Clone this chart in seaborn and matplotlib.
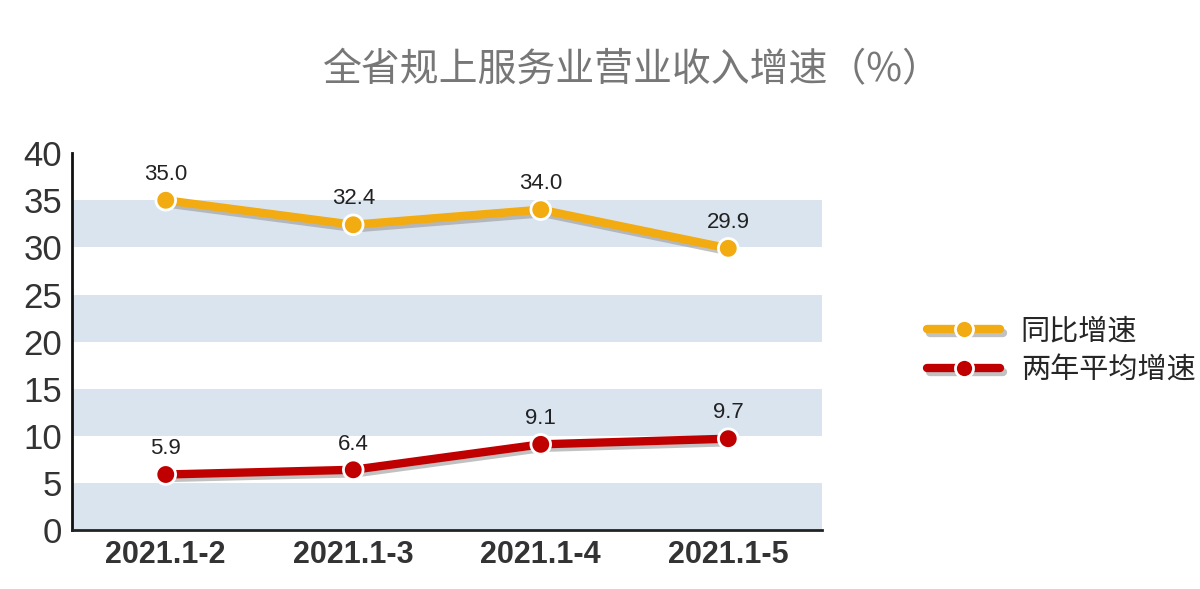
import pandas as pd
import matplotlib
matplotlib.use('Agg')
import matplotlib.pyplot as plt
import matplotlib.patheffects as pe
from matplotlib.lines import Line2D
import seaborn as sns

periods = ['2021.1-2', '2021.1-3', '2021.1-4', '2021.1-5']
yoy = [35.0, 32.4, 34.0, 29.9]
two_year = [5.9, 6.4, 9.1, 9.7]
series_names = ['同比增速', '两年平均增速']
title = '全省规上服务业营业收入增速（%）'

sns.set_theme(style='white')
plt.rcParams['font.family'] = ['Noto Sans CJK SC', 'DejaVu Sans']
num_font = ['Liberation Sans', 'DejaVu Sans']

df = pd.DataFrame({'period': periods, series_names[0]: yoy, series_names[1]: two_year})
df['x'] = range(len(periods))
long = df.melt(id_vars=['period', 'x'], value_vars=series_names, var_name='series', value_name='value')

colors = {series_names[0]: '#f2ab10', series_names[1]: '#c00000'}

fig = plt.figure(figsize=(12, 5.89), dpi=100)
ax = fig.add_axes([0.06, 0.1, 0.625, 0.64])

# alternating bands
for lo in range(0, 40, 10):
    ax.axhspan(lo, lo + 5, color='#dae4ef', zorder=0, lw=0)

shadow = [pe.SimpleLineShadow(offset=(2, -2.5), shadow_color='#999999', alpha=0.6), pe.Normal()]
sns.lineplot(data=long, x='x', y='value', hue='series', palette=colors, linewidth=6,
             legend=False, ax=ax, zorder=3)
for line in ax.get_lines():
    line.set_path_effects(shadow)
    line.set_solid_capstyle('round')
sns.scatterplot(data=long, x='x', y='value', hue='series', palette=colors, s=200,
                edgecolor='white', linewidth=2, legend=False, ax=ax, zorder=4)

for _, r in long.iterrows():
    ax.annotate(f'{r["value"]:.1f}', (r['x'], r['value']), xytext=(0, 11), textcoords='offset points',
                ha='center', va='bottom', fontsize=16, color='#222222', family=num_font)

ax.set_xlim(-0.5, 3.5)
ax.set_ylim(0, 40)
ax.set_yticks(range(0, 41, 5))
ax.set_xticks(range(len(periods)))
ax.set_xticklabels(periods, fontsize=22, fontweight='bold', color='#333333', family=num_font)
ax.tick_params(axis='y', labelsize=25, colors='#333333', length=0, pad=7)
ax.tick_params(axis='x', length=0, pad=7)
for lab in ax.get_yticklabels():
    lab.set_family(num_font)
ax.set_xlabel('')
ax.set_ylabel('')
for s in ['top', 'right']:
    ax.spines[s].set_visible(False)
ax.spines['left'].set_color('#111111')
ax.spines['left'].set_linewidth(2)
ax.spines['bottom'].set_color('#222222')
ax.spines['bottom'].set_linewidth(2)

fig.text(0.527, 0.88, title, ha='center', va='center', fontsize=28, color='#777777')

handles = []
for n in series_names:
    ln = Line2D([0], [0], color=colors[n], lw=6, solid_capstyle='round', path_effects=shadow)
    mk = Line2D([0], [0], color=colors[n], lw=0, marker='o', markersize=13,
                markeredgecolor='white', markeredgewidth=2)
    handles.append((ln, mk))
fig.legend(handles, series_names, loc='center left', bbox_to_anchor=(0.751, 0.404),
           frameon=False, fontsize=21, handlelength=2.5, labelspacing=0.3, handletextpad=0.7)

fig.savefig('out.png', dpi=100)
